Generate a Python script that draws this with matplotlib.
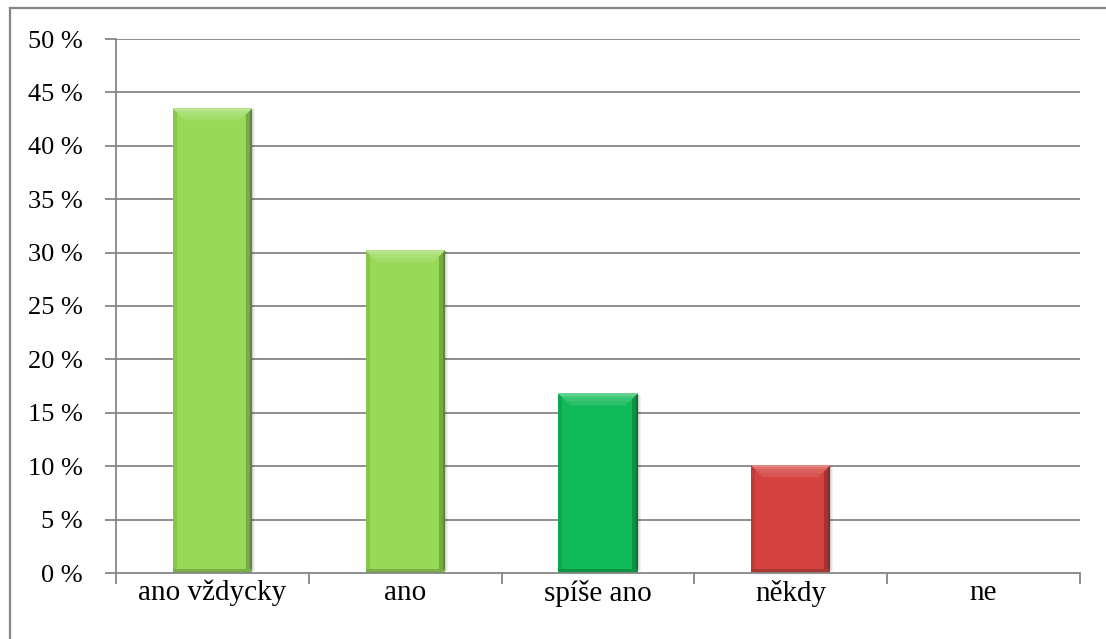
import matplotlib
matplotlib.use("Agg")
import matplotlib.pyplot as plt
from matplotlib.patches import Polygon, Rectangle
from matplotlib.lines import Line2D
from matplotlib.ticker import FuncFormatter, MultipleLocator, FixedLocator
import matplotlib.colors as mcolors
import numpy as np

categories = ["ano vždycky", "ano", "spíše ano", "někdy", "ne"]
shares = [0.435, 0.302, 0.168, 0.101, 0.0]
bar_colors = ["#98DA58", "#98DA58", "#10BA58", "#D4433F", "#D4433F"]

plt.rcParams["font.family"] = ["Liberation Serif", "DejaVu Serif"]

W, H, DPI = 1106, 639, 100
fig = plt.figure(figsize=(W / DPI, H / DPI), dpi=DPI)
ax = fig.add_axes([116 / W, 1 - 573 / H, (1080 - 116) / W, (573 - 39) / H])

grid_col = "#868686"
x = np.arange(len(categories))
width = 0.41
ax.set_xlim(-0.5, len(categories) - 0.5)
ax.set_ylim(0, 0.5)

for yv in np.arange(0.05, 0.501, 0.05):
    ax.axhline(yv, color=grid_col, lw=1.3, zorder=0)

bars = ax.bar(x, shares, width=width, color=bar_colors, zorder=3, linewidth=0)


def mix(c, other, t):
    a = np.array(mcolors.to_rgb(c))
    b = np.array(mcolors.to_rgb(other))
    return tuple(a * (1 - t) + b * t)


# pixel sizes expressed in data units
px_x = (len(categories)) / (1080 - 116)
px_y = 0.5 / (573 - 39)

for b, col in zip(bars, bar_colors):
    h = b.get_height()
    if h <= 0:
        continue
    x0, x1 = b.get_x(), b.get_x() + b.get_width()
    top = h
    # soft shadow on the right
    for k, a in enumerate([0.18, 0.10, 0.05]):
        ax.add_patch(Rectangle((x1 + k * px_x, 2 * px_y), px_x * 1.0, h - 3 * px_y,
                               color="black", alpha=a, lw=0, zorder=2))
    # side and bottom shading
    ax.add_patch(Rectangle((x0, 0), 4 * px_x, h, color=mix(col, "black", 0.10), lw=0, zorder=4))
    ax.add_patch(Rectangle((x1 - 6 * px_x, 0), 6 * px_x, h, color=mix(col, "black", 0.22), lw=0, zorder=4))
    ax.add_patch(Rectangle((x1 - 2 * px_x, 0), 2 * px_x, h, color=mix(col, "black", 0.38), lw=0, zorder=4))
    ax.add_patch(Rectangle((x0, 0), x1 - x0, 4 * px_y, color=mix(col, "black", 0.20), lw=0, zorder=4))
    # lit top bevel
    for i, (d, t) in enumerate([(12, 0.10), (8, 0.16), (4, 0.24), (2, 0.36)]):
        ax.add_patch(Polygon([(x0, top), (x1, top), (x1 - d * px_x, top - d * px_y),
                              (x0 + d * px_x, top - d * px_y)],
                             closed=True, color=mix(col, "white", t), lw=0, zorder=5 + i))

# axes styling
for s in ["top", "right"]:
    ax.spines[s].set_visible(False)
for s in ["left", "bottom"]:
    ax.spines[s].set_color(grid_col)
    ax.spines[s].set_linewidth(1.3)
ax.spines["bottom"].set_zorder(10)

ax.yaxis.set_major_locator(MultipleLocator(0.05))
ax.yaxis.set_major_formatter(FuncFormatter(lambda v, p: f"{round(v * 100):d} %"))
ax.tick_params(axis="y", length=8, width=1.3, color=grid_col, pad=16, labelsize=19)

ax.set_xticks(x)
ax.set_xticklabels(categories)
ax.xaxis.set_minor_locator(FixedLocator(np.arange(-0.5, len(categories), 1.0)))
ax.tick_params(axis="x", which="major", length=0, pad=5, labelsize=21)
ax.tick_params(axis="x", which="minor", length=8, width=1.3, color=grid_col)

# outer chart frame
fig.add_artist(Line2D([10 / W, 10 / W], [0, 1 - 8 / H], color=grid_col, lw=1.6,
                      transform=fig.transFigure))
fig.add_artist(Line2D([10 / W, 1], [1 - 8 / H, 1 - 8 / H], color=grid_col, lw=1.6,
                      transform=fig.transFigure))

fig.savefig("out.png", dpi=DPI)
